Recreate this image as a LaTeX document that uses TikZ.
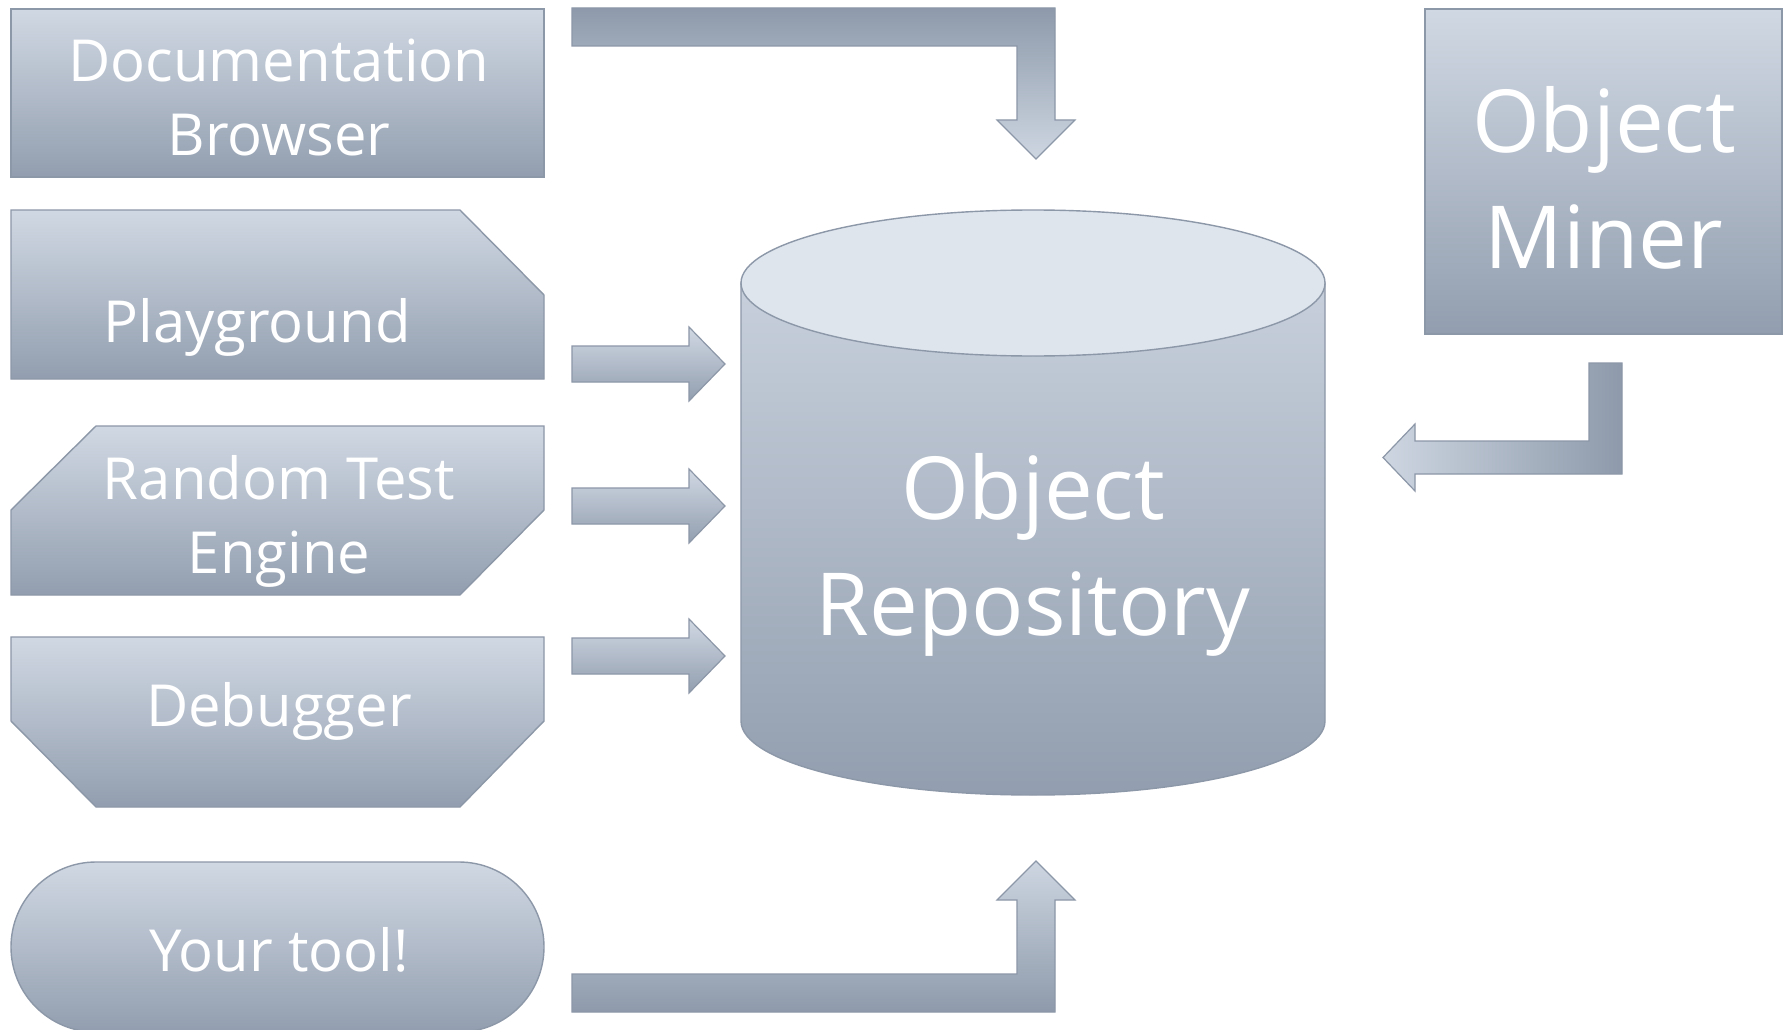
\documentclass[tikz,border=0pt]{standalone}
\usepackage{fontspec}
\setmainfont{Open Sans}
\definecolor{gtop}{HTML}{D0D8E3}
\definecolor{gbot}{HTML}{929EAF}
\definecolor{edge}{HTML}{8C97A8}
\definecolor{lid}{HTML}{DFE5ED}
\definecolor{adark}{HTML}{8E9AAB}
\definecolor{alight}{HTML}{CDD6E1}
\tikzset{
  boxshape/.style={draw=edge, line width=1.4pt, top color=gtop, bottom color=gbot},
  arrowdown/.style={draw=edge, line width=1.2pt, top color=adark, bottom color=alight},
  arrowup/.style={draw=edge, line width=1.2pt, top color=alight, bottom color=adark},
  arrowright/.style={draw=edge, line width=1.2pt, top color=gtop, bottom color=gbot},
  arrowleft/.style={draw=edge, line width=1.2pt, left color=alight, right color=adark},
  small/.style={text=white, inner sep=0pt, anchor=base, font=\fontsize{58}{68}\selectfont},
  big/.style={text=white, inner sep=0pt, anchor=base, font=\fontsize{87}{100}\selectfont},
}
\begin{document}
\begin{tikzpicture}[x=1pt, y=-1pt]
\useasboundingbox[fill=white] (0,0) rectangle (1789,1030);
% boxes
\path[boxshape] (11,9) rectangle (544,177);
\path[boxshape] (11,210) -- (460,210) -- (544,295) -- (544,379) -- (11,379) -- cycle;
\path[boxshape] (96,426) -- (544,426) -- (544,510) -- (460,595) -- (11,595) -- (11,510) -- cycle;
\path[boxshape] (11,637) -- (544,637) -- (544,721) -- (460,807) -- (96,807) -- (11,721) -- cycle;
\path[boxshape, rounded corners=85pt] (11,862) rectangle (544,1032);
\path[boxshape] (1425,9) rectangle (1782,334);
% cylinder
\path[draw=edge, line width=1.4pt, top color=gtop!85!gbot, bottom color=gbot]
  (741,283) -- (741,721) arc[start angle=180, end angle=360, x radius=292pt, y radius=74pt]
  -- (1325,283) -- cycle;
\path[draw=edge, line width=1.4pt, fill=lid] (1033,283) ellipse[x radius=292pt, y radius=73pt];
% block arrows
\path[arrowdown] (572,8) -- (1055,8) -- (1055,120) -- (1075,120) -- (1036,159) -- (997,120)
  -- (1017,120) -- (1017,46) -- (572,46) -- cycle;
\foreach \yc in {364,506,656}{
  \path[arrowright] (572,\yc-18) -- (689,\yc-18) -- (689,\yc-37) -- (725,\yc) -- (689,\yc+37)
    -- (689,\yc+18) -- (572,\yc+18) -- cycle;
}
\path[arrowup] (572,1012) -- (1055,1012) -- (1055,900) -- (1075,900) -- (1036,861) -- (997,900)
  -- (1017,900) -- (1017,974) -- (572,974) -- cycle;
\path[arrowleft] (1622,363) -- (1622,474) -- (1415,474) -- (1415,491) -- (1383,457.5)
  -- (1415,424) -- (1415,441) -- (1589,441) -- (1589,363) -- cycle;
% texts
\node[small] (doc1) at (279,82) {Documentation};
\node[small] (doc2) at (279,156) {Browser};
\node[small] (play) at (257,342) {Playground};
\node[small] (rte1) at (279,499) {Random Test};
\node[small] (rte2) at (279,573) {Engine};
\node[small] (dbg) at (279,726) {Debugger};
\node[small] (your) at (279,971) {Your tool!};
\node[big] (rep1) at (1033,519) {Object};
\node[big] (rep2) at (1033,635) {Repository};
\node[big] (min1) at (1604,153) {Object};
\node[big] (min2) at (1604,268) {Miner};
\end{tikzpicture}
\end{document}
